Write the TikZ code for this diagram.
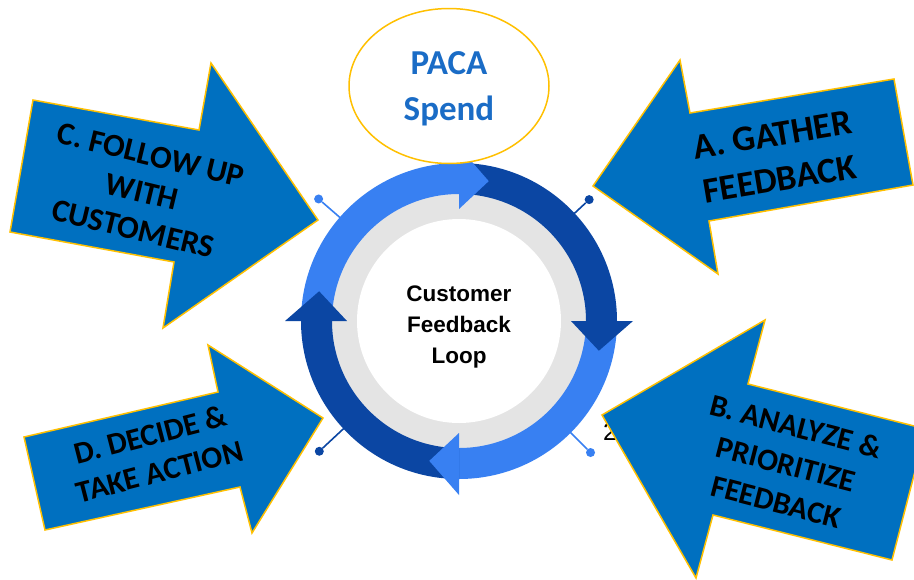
\documentclass[tikz,border=0pt]{standalone}
\usepackage{fontspec}
\setmainfont{Carlito}
\newfontfamily\loopfont{Liberation Sans}
\usetikzlibrary{calc,positioning,shapes.geometric}

\definecolor{ringlight}{HTML}{3880F2}
\definecolor{ringdark}{HTML}{0B46A3}
\definecolor{stepblue}{HTML}{0070C0}
\definecolor{gold}{HTML}{FFC000}
\definecolor{pacablue}{HTML}{1A6CC6}
\definecolor{band}{HTML}{E4E4E4}

\tikzset{
  steparrow/.style={fill=stepblue, draw=gold, line width=1.5pt, line join=miter},
  steptext/.style={align=center, inner sep=0pt, font=\bfseries\fontsize{32}{38}\selectfont},
  pinline/.style={line width=1.6pt},
  pindot/.style={circle, minimum size=9pt, inner sep=0pt}
}

\begin{document}
\begin{tikzpicture}[x=1pt,y=1pt]
\useasboundingbox (0,0) rectangle (914,-579);
\clip (0,0) rectangle (914,-579);
\fill[white] (0,0) rectangle (914,-579);

\coordinate (c) at (459,-321);

% pins
\foreach \n/\ang/\rad/\col in {tl/139/186/ringlight, tr/43/178/ringdark, bl/223/191/ringdark, br/-45/186/ringlight} {
  \node[pindot, fill=\col] (dot\n) at ($(c)+(\ang:\rad)$) {};
  \coordinate (end\n) at ($(c)+(\ang:145)$);
  \draw[pinline, \col] (dot\n) -- (end\n);
}

% loop
\fill[band] (c) circle[radius=128pt];
\fill[white] (c) circle[radius=102pt];
\foreach \a/\col in {180/ringlight, 90/ringdark, 0/ringlight, -90/ringdark}
  \fill[\col] ($(c)+(\a:158)$) arc[start angle=\a, end angle=\a-90, radius=158pt]
     -- ($(c)+(\a-90:127)$) arc[start angle=\a-90, end angle=\a, radius=127pt] -- cycle;
\foreach \a/\col in {180/ringlight, 90/ringdark, 0/ringlight, -90/ringdark}
  \fill[\col] ($(c)+(\a-90:112)$) -- ($(c)+(\a-90:174)$) -- ($(c)+(\a-102:143)$) -- cycle;

\node[align=center, font=\loopfont\bfseries\fontsize{22.5}{31}\selectfont] (loop) at (459,-327) {Customer\\Feedback\\Loop};

\node[ellipse, draw=gold, line width=1.5pt, fill=white, minimum width=200pt, minimum height=155pt,
      text=pacablue, align=center, text depth=0pt, font=\bfseries\fontsize{35}{46}\selectfont] (paca) at (449,-86) {PACA\\Spend};

\node[anchor=base west, inner sep=0pt, font=\loopfont\fontsize{25}{30}\selectfont] (two) at (603,-440) {2};

% steps
\draw[steparrow] (33,-100) -- (199,-130) -- (211,-63) -- (318,-220) -- (163,-328) -- (174,-262) -- (10,-232) -- cycle;
\draw[steparrow] (593,-186) -- (680,-60) -- (690,-113) -- (894,-79) -- (913,-185) -- (709,-221) -- (718,-274) -- cycle;
\draw[steparrow] (24,-437) -- (218,-392) -- (208,-345) -- (323,-418) -- (252,-533) -- (240,-487) -- (45,-530) -- cycle;
\draw[steparrow] (602,-415) -- (765,-320) -- (748,-384) -- (926,-429) -- (892,-560) -- (713,-515) -- (696,-578) -- cycle;

\node[steptext, rotate=-13.5] (follow) at (142,-192) {C. FOLLOW UP\\WITH\\CUSTOMERS};
\node[steptext, rotate=9.5, font=\bfseries\fontsize{36}{45}\selectfont] (gather) at (776,-157) {A. GATHER\\FEEDBACK};
\node[steptext, rotate=14.5, font=\bfseries\fontsize{31}{38}\selectfont] (decide) at (155,-453) {D. DECIDE \&\\TAKE ACTION};
\node[steptext, rotate=-14.5, font=\bfseries\fontsize{31}{39}\selectfont] (analyze) at (786,-464) {B. ANALYZE \&\\PRIORITIZE\\FEEDBACK};
\end{tikzpicture}
\end{document}
